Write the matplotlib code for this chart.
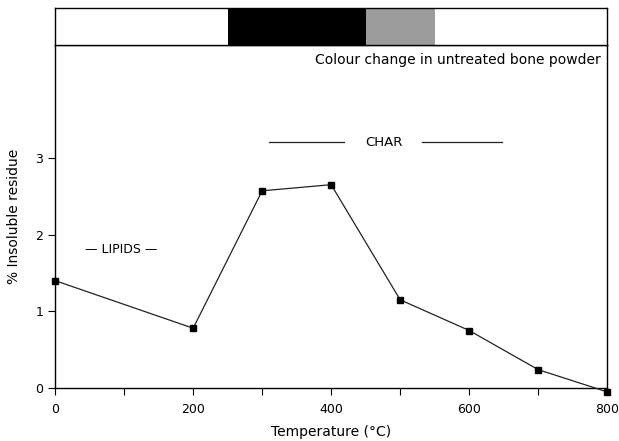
import matplotlib.pyplot as plt
import matplotlib.patches as mpatches

# data
temps = [0, 200, 300, 400, 500, 600, 700, 800]
residue = [1.40, 0.78, 2.57, 2.65, 1.15, 0.75, 0.24, -0.05]
x_ticks = [0, 200, 400, 600, 800]
x_minor = [100, 300, 500, 700]
y_ticks = [0, 1, 2, 3]

# colour bands of the bone powder (start, end, colour)
bands = [(250, 450, 'black'), (450, 550, '#9c9c9c')]

plt.rcParams['font.family'] = ['DejaVu Sans']

fig = plt.figure(figsize=(6.19, 4.41), dpi=100)
ax = fig.add_axes([0.089, 0.120, 0.892, 0.778])
axb = fig.add_axes([0.089, 0.898, 0.892, 0.084])

ax.plot(temps, residue, color='#222222', lw=0.9, marker='s', ms=4.5,
        mfc='black', mec='black', clip_on=False, zorder=3)

ax.set_xlim(0, 800)
ax.set_ylim(0, 4.47)
ax.set_xticks(x_ticks)
ax.set_xticks(x_minor, minor=True)
ax.set_yticks(y_ticks)
ax.tick_params(axis='both', which='both', direction='out', length=5,
               width=0.8, labelsize=9)
ax.tick_params(axis='x', which='both', pad=6)
for s in ax.spines.values():
    s.set_linewidth(1.0)

ax.set_xlabel('Temperature (°C)', fontsize=10, labelpad=6)
ax.set_ylabel('% Insoluble residue', fontsize=10, labelpad=10)

ax.text(790, 4.27, 'Colour change in untreated bone powder', ha='right',
        va='center', fontsize=10)
ax.text(96, 1.80, '— LIPIDS —', ha='center', va='center', fontsize=9)
ax.text(477, 3.20, 'CHAR', ha='center', va='center', fontsize=9.5)
ax.plot([310, 418], [3.20, 3.20], color='#222222', lw=0.9)
ax.plot([532, 648], [3.20, 3.20], color='#222222', lw=0.9)

# colour bar on top
for x0, x1, c in bands:
    axb.add_patch(mpatches.Rectangle((x0, 0), x1 - x0, 1, facecolor=c,
                                     edgecolor='none'))
axb.set_xlim(0, 800)
axb.set_ylim(0, 1)
axb.set_xticks([])
axb.set_yticks([])
for s in axb.spines.values():
    s.set_linewidth(1.0)

fig.savefig('out.png', dpi=100)
